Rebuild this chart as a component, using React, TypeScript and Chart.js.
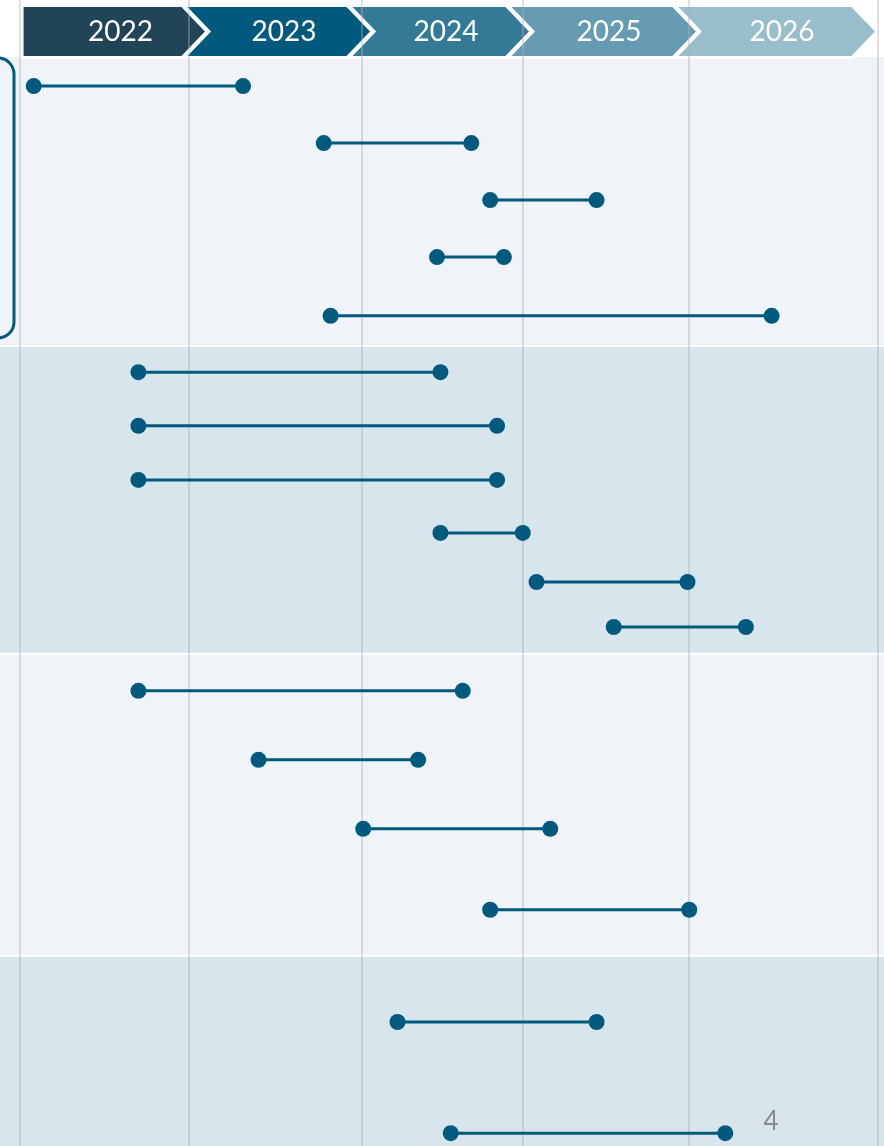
import React, { useEffect, useRef } from 'react';
import { Chart, registerables } from 'chart.js';

Chart.register(...registerables);

// Header years and where each year's chevron body ends (decimal years on the x scale)
const years = ['2022', '2023', '2024', '2025', '2026'];
const headerStart = 2022.012;
const headerEnds = [2022.944, 2023.906, 2024.832, 2025.805, 2026.848];

// Vertical grid lines (decimal years)
const gridValues = [2022, 2022.985, 2023.993, 2024.931, 2025.899, 2027];

// Row positions (row units, top = 0)
const rowPositions = [
  0.51, 1.51, 2.51, 3.51, 4.54,
  5.53, 6.47, 7.42, 8.35, 9.21, 10.0,
  11.12, 12.33, 13.54, 14.96,
  16.93, 18.88,
];

// Start and end dates of each bar (decimal years)
const startDates = [
  2022.08, 2023.77, 2024.74, 2024.43, 2023.81,
  2022.69, 2022.69, 2022.69, 2024.45, 2025.01, 2025.46,
  2022.69, 2023.39, 2024.0, 2024.74,
  2024.2, 2024.51,
];
const endDates = [
  2023.3, 2024.63, 2025.36, 2024.82, 2026.38,
  2024.45, 2024.78, 2024.78, 2024.93, 2025.89, 2026.23,
  2024.58, 2024.32, 2025.09, 2025.9,
  2025.36, 2026.11,
];

// Group band edges (row units)
const bandEdges = [0, 5.07, 10.47, 15.77, 19.105];
const pageNumber = '4';

const DOT = '#005a7e';
const headerColors = ['#214456', '#015a7d', '#347a97', '#679bb1', '#9abdcc'];
const bandColors = ['#f0f4f8', '#d9e5ec'];

const decorPlugin = {
  id: 'decor',
  beforeDraw(chart: any) {
    const { ctx, width, height } = chart;
    const xs = chart.scales.x;
    const ys = chart.scales.y;
    ctx.save();
    ctx.fillStyle = '#ffffff';
    ctx.fillRect(0, 0, width, height);

    // bands
    for (let i = 0; i < bandEdges.length - 1; i++) {
      const y0 = ys.getPixelForValue(bandEdges[i]);
      const y1 = ys.getPixelForValue(bandEdges[i + 1]);
      const top = i === 0 ? y0 : y0 + 1;
      const bot = i === bandEdges.length - 2 ? height : y1 - 1;
      ctx.fillStyle = bandColors[i % 2];
      ctx.fillRect(0, top, width, bot - top);
    }

    // header chevrons
    const hTop = 5.5;
    const hBot = 57.5;
    const mid = (hTop + hBot) / 2;
    const d = 25;
    for (let i = 0; i < years.length; i++) {
      const bodyEnd = xs.getPixelForValue(headerEnds[i]);
      const left = i === 0 ? xs.getPixelForValue(headerStart) : xs.getPixelForValue(headerEnds[i - 1]) + 2;
      ctx.beginPath();
      ctx.moveTo(left, hTop);
      ctx.lineTo(bodyEnd, hTop);
      ctx.lineTo(bodyEnd + d, mid);
      ctx.lineTo(bodyEnd, hBot);
      ctx.lineTo(left, hBot);
      if (i > 0) ctx.lineTo(left + d, mid);
      ctx.closePath();
      ctx.fillStyle = headerColors[i];
      ctx.fill();
      ctx.lineWidth = 3;
      ctx.strokeStyle = '#ffffff';
      ctx.lineJoin = 'miter';
      ctx.stroke();
      ctx.fillStyle = '#ffffff';
      ctx.font = '400 28px Lato, "Open Sans", sans-serif';
      ctx.textAlign = 'center';
      ctx.textBaseline = 'middle';
      ctx.fillText(years[i], (left + bodyEnd + d) / 2 + 6, mid);
    }

    // highlight frame around first group
    ctx.beginPath();
    const fTop = ys.getPixelForValue(bandEdges[0]) + 1;
    const fBot = ys.getPixelForValue(bandEdges[1]) - 8;
    (ctx as any).roundRect(-20, fTop, 34, fBot - fTop, 16);
    ctx.lineWidth = 3;
    ctx.strokeStyle = DOT;
    ctx.stroke();
    ctx.restore();
  },
  beforeDatasetsDraw(chart: any) {
    const { ctx, height } = chart;
    const xs = chart.scales.x;
    ctx.save();
    ctx.strokeStyle = 'rgba(170,176,182,0.4)';
    ctx.lineWidth = 2;
    gridValues.forEach((v) => {
      const px = Math.round(xs.getPixelForValue(v));
      ctx.beginPath();
      ctx.moveTo(px, 0);
      ctx.lineTo(px, height);
      ctx.stroke();
    });
    ctx.restore();
  },
  afterDraw(chart: any) {
    const { ctx } = chart;
    ctx.save();
    ctx.fillStyle = '#8a8a8a';
    ctx.font = '26px Lato, "Open Sans", sans-serif';
    ctx.textAlign = 'center';
    ctx.textBaseline = 'alphabetic';
    ctx.fillText(pageNumber, 771, 1130);
    ctx.restore();
  },
};

export default function App() {
  const ref = useRef<HTMLCanvasElement>(null);
  useEffect(() => {
    if (!ref.current) return;
    const datasets = rowPositions.map((y, i) => ({
      data: [
        { x: startDates[i], y },
        { x: endDates[i], y },
      ],
      showLine: true,
      borderColor: DOT,
      borderWidth: 3,
      backgroundColor: DOT,
      pointBackgroundColor: DOT,
      pointBorderWidth: 0,
      pointRadius: 8,
      pointHoverRadius: 8,
      clip: false as any,
    }));
    const chart = new Chart(ref.current, {
      type: 'scatter',
      data: { datasets },
      options: {
        animation: false,
        responsive: false,
        devicePixelRatio: 1,
        layout: { autoPadding: false, padding: { left: 20, right: 6, top: 57, bottom: 0 } },
        plugins: { legend: { display: false }, tooltip: { enabled: false } },
        events: [],
        scales: {
          x: { type: 'linear', min: 2022, max: 2027, display: false },
          y: { type: 'linear', min: 0, max: 19.105, reverse: true, display: false },
        },
      },
      plugins: [decorPlugin],
    });
    return () => chart.destroy();
  }, []);
  return (
    <div style={{ position: 'absolute', left: 0, top: 0, width: 884, height: 1146 }}>
      <canvas ref={ref} width={884} height={1146} style={{ display: 'block' }} />
    </div>
  );
}
